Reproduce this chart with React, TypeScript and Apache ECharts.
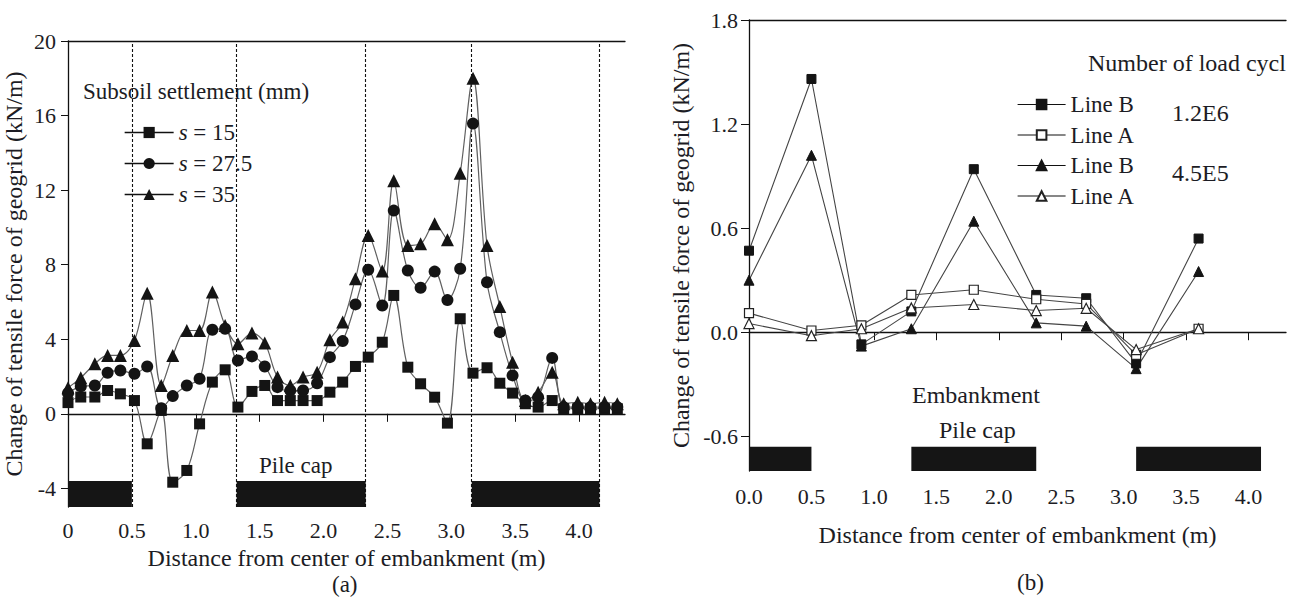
import React, { useEffect, useRef } from 'react';
import * as echarts from 'echarts';

// ---------- Panel (a) data ----------
const xPosA = [0, 0.1, 0.21, 0.31, 0.41, 0.52, 0.62, 0.73, 0.82, 0.93, 1.03, 1.13, 1.23, 1.33, 1.44, 1.54, 1.64, 1.74, 1.84, 1.95, 2.05, 2.15, 2.25, 2.35, 2.46, 2.55, 2.66, 2.76, 2.87, 2.97, 3.07, 3.17, 3.28, 3.38, 3.48, 3.58, 3.68, 3.79, 3.88, 3.99, 4.09, 4.2, 4.3];
const s15 = [0.6, 0.9, 0.9, 1.25, 1.07, 0.71, -1.61, 0.18, -3.67, -3.04, -0.54, 1.7, 2.36, 0.36, 1.2, 1.52, 0.71, 0.71, 0.71, 0.71, 1.16, 1.7, 2.54, 3.04, 3.84, 6.35, 2.5, 1.61, 0.89, -0.5, 5.1, 2.18, 2.47, 1.64, 1.11, 0.54, 0.36, 0.71, 0.27, 0.27, 0.27, 0.27, 0.27];
const s27 = [1.1, 1.47, 1.52, 2.2, 2.32, 2.15, 2.54, 0.3, 0.95, 1.52, 1.88, 4.51, 4.56, 2.86, 3.08, 2.54, 1.43, 1.25, 1.25, 1.64, 3.04, 3.9, 5.87, 7.73, 5.81, 10.9, 7.69, 6.76, 7.63, 6.1, 7.78, 15.57, 7.06, 4.38, 2.06, 0.71, 0.89, 3.0, 0.36, 0.36, 0.36, 0.36, 0.36];
const s35 = [1.4, 1.93, 2.68, 3.13, 3.13, 3.93, 6.47, 1.52, 3.13, 4.47, 4.47, 6.53, 4.74, 3.76, 4.33, 3.8, 1.97, 1.52, 1.97, 2.23, 3.97, 4.92, 7.25, 9.57, 7.66, 12.5, 9.03, 9.12, 10.2, 9.34, 12.9, 18.0, 9.03, 5.76, 2.77, 0.71, 1.16, 2.23, 0.54, 0.62, 0.54, 0.62, 0.54];
const seriesNamesA = ['s = 15', 's = 27.5', 's = 35'];
const pileCapsA = [[0, 0.5], [1.32, 2.33], [3.16, 4.16]];
const capTopA = -3.6;
const dashedA = [0.5, 1.32, 2.33, 3.16, 4.16];
const xTicksA = [0, 0.5, 1, 1.5, 2, 2.5, 3, 3.5, 4];
const yTicksA = [-4, 0, 4, 8, 12, 16, 20];

// ---------- Panel (b) data ----------
const xPosB = [0, 0.5, 0.9, 1.3, 1.8, 2.3, 2.7, 3.1, 3.6];
const lineB12 = [0.47, 1.46, -0.07, 0.12, 0.94, 0.215, 0.196, -0.18, 0.54];
const lineA12 = [0.11, 0.01, 0.04, 0.215, 0.245, 0.19, 0.163, -0.13, 0.02];
const lineB45 = [0.3, 1.02, -0.08, 0.02, 0.64, 0.054, 0.035, -0.21, 0.35];
const lineA45 = [0.05, -0.02, 0.02, 0.14, 0.16, 0.125, 0.138, -0.1, 0.02];
const seriesNamesB = ['Line B 1.2E6', 'Line A 1.2E6', 'Line B 4.5E5', 'Line A 4.5E5'];
const pileCapsB = [[0, 0.5], [1.3, 2.3], [3.1, 4.1]];
const capTopB = -0.66;
const xTicksB = [0, 0.5, 1, 1.5, 2, 2.5, 3, 3.5, 4];
const yTicksB = [-0.6, 0, 0.6, 1.2, 1.8];

const FONT = 'Liberation Serif';
const TXT = '#1c1c24';
const AX = '#111';

const zip = (xs: number[], ys: number[]) => xs.map((x, i) => [x, ys[i]]);

export default function App() {
  const ref = useRef<HTMLDivElement>(null);
  useEffect(() => {
    if (!ref.current) return;
    const chart = echarts.init(ref.current, undefined, { renderer: 'svg' });

    const axisLabelBase = { color: TXT, fontFamily: FONT, fontSize: 22 };
    const nameStyle = { color: TXT, fontFamily: FONT, fontSize: 24 };
    const txt = (text: string, left: number, top: number, size = 23) => ({
      type: 'text', left, top, style: { text, font: `${size}px "${FONT}"`, fill: TXT },
    });

    const capRender = (top: number, bottom: number) => (params: any, api: any) => {
      const p0 = api.coord([api.value(0), top]);
      const p1 = api.coord([api.value(1), bottom]);
      return {
        type: 'rect',
        shape: { x: p0[0], y: p0[1], width: p1[0] - p0[0], height: p1[1] - p0[1] },
        style: { fill: '#151515' },
      };
    };

    const lineA = (name: string, data: number[], symbol: string, size: number) => ({
      name,
      type: 'line',
      xAxisIndex: 0,
      yAxisIndex: 0,
      data: zip(xPosA, data),
      smooth: 0.35,
      symbol,
      symbolSize: size,
      itemStyle: { color: '#141414' },
      lineStyle: { color: '#606060', width: 1.2 },
      z: 5,
    });

    const lineBf = (name: string, data: number[], symbol: string, size: number, filled: boolean) => ({
      name,
      type: 'line',
      xAxisIndex: 2,
      yAxisIndex: 1,
      data: zip(xPosB, data),
      symbol,
      symbolSize: size,
      itemStyle: filled
        ? { color: '#141414', borderColor: '#141414', borderWidth: 1 }
        : { color: '#ffffff', borderColor: '#222', borderWidth: 1.2 },
      lineStyle: { color: '#444', width: 1.1 },
      z: 5,
    });

    const option: any = {
      animation: false,
      backgroundColor: '#ffffff',
      grid: [
        { left: 68, top: 41, width: 557, height: 466 },
        { left: 749, top: 20, width: 537, height: 451 },
      ],
      xAxis: [
        {
          gridIndex: 0, type: 'value', min: 0, max: 4.36, position: 'bottom',
          axisLine: { lineStyle: { color: AX, width: 1.3 } },
          axisTick: { length: 8, customValues: xTicksA, lineStyle: { color: AX } },
          axisLabel: { ...axisLabelBase, customValues: xTicksA, margin: 12,
            formatter: (v: number) => (v === 0 ? '0' : v.toFixed(1)) },
          splitLine: { show: false },
          name: 'Distance from center of embankment (m)', nameLocation: 'middle', nameGap: 36,
          nameTextStyle: nameStyle,
        },
        {
          gridIndex: 0, type: 'value', min: 0, max: 4.36, position: 'top',
          axisLine: { lineStyle: { color: AX, width: 1.3 } },
          axisTick: { show: false }, axisLabel: { show: false }, splitLine: { show: false },
        },
        {
          gridIndex: 1, type: 'value', min: 0, max: 4.3, position: 'bottom',
          axisLine: { lineStyle: { color: AX, width: 1.3 } },
          axisTick: { length: 8, customValues: xTicksB, lineStyle: { color: AX } },
          axisLabel: { ...axisLabelBase, customValues: xTicksB, margin: 14,
            formatter: (v: number) => v.toFixed(1) },
          splitLine: { show: false },
          name: 'Distance from center of embankment (m)', nameLocation: 'middle', nameGap: 52,
          nameTextStyle: nameStyle,
        },
        {
          gridIndex: 1, type: 'value', min: 0, max: 4.3, position: 'top',
          axisLine: { lineStyle: { color: AX, width: 1.3 } },
          axisTick: { show: false }, axisLabel: { show: false }, splitLine: { show: false },
        },
      ],
      yAxis: [
        {
          gridIndex: 0, type: 'value', min: -5, max: 20,
          axisLine: { show: true, lineStyle: { color: AX, width: 1.3 } },
          axisTick: { show: true, length: 7, customValues: yTicksA, lineStyle: { color: AX } },
          axisLabel: { ...axisLabelBase, customValues: yTicksA, margin: 12 },
          splitLine: { show: false },
          name: 'Change of tensile force of geogrid (kN/m)', nameLocation: 'middle', nameGap: 42,
          nameTextStyle: nameStyle,
        },
        {
          gridIndex: 1, type: 'value', min: -0.8, max: 1.8,
          axisLine: { show: true, lineStyle: { color: AX, width: 1.3 } },
          axisTick: { show: true, length: 8, customValues: yTicksB, lineStyle: { color: AX } },
          axisLabel: { ...axisLabelBase, customValues: yTicksB, margin: 11,
            formatter: (v: number) => v.toFixed(1) },
          splitLine: { show: false },
          name: 'Change of tensile force of geogrid (kN/m)', nameLocation: 'middle', nameGap: 56,
          nameTextStyle: nameStyle,
        },
      ],
      legend: [
        {
          data: seriesNamesA,
          orient: 'vertical', left: 119, top: 116,
          itemWidth: 49, itemHeight: 14, itemGap: 8,
          lineStyle: { color: '#111', width: 1.3 },
          textStyle: {
            color: TXT, fontFamily: FONT, fontSize: 23, lineHeight: 22,
            rich: {
              i: { fontStyle: 'italic', fontFamily: FONT, fontSize: 23, color: TXT },
              n: { fontFamily: FONT, fontSize: 23, color: TXT },
            },
          },
          formatter: (name: string) => `{i|s}{n|${name.slice(1)}}`,
          selectedMode: false,
        },
        {
          data: seriesNamesB,
          orient: 'vertical', left: 1012, top: 88,
          itemWidth: 48, itemHeight: 12, itemGap: 7.5,
          lineStyle: { color: '#111', width: 1.2 },
          textStyle: { color: TXT, fontFamily: FONT, fontSize: 23, lineHeight: 22 },
          formatter: (name: string) => name.split(' ').slice(0, 2).join(' '),
          selectedMode: false,
        },
      ],
      graphic: [
        txt('Subsoil settlement (mm)', 83, 80),
        txt('Pile cap', 259, 454),
        txt('Number of load cycl', 1088, 51, 24),
        txt('1.2E6', 1172, 101, 24),
        txt('4.5E5', 1172, 161, 24),
        txt('Embankment', 912, 383, 24),
        txt('Pile cap', 939, 418, 24),
        txt('(a)', 332, 573, 23),
        txt('(b)', 1017, 571, 23),
      ],
      series: [
        {
          type: 'custom', name: 'capsA', xAxisIndex: 0, yAxisIndex: 0,
          data: pileCapsA, renderItem: capRender(capTopA, -5), z: 2, silent: true,
          encode: { x: [0, 1] },
        },
        {
          type: 'custom', name: 'capsB', xAxisIndex: 2, yAxisIndex: 1,
          data: pileCapsB, renderItem: capRender(capTopB, -0.8), z: 2, silent: true,
          encode: { x: [0, 1] },
        },
        {
          ...lineA(seriesNamesA[0], s15, 'rect', 11),
          markLine: {
            silent: true, symbol: ['none', 'none'], label: { show: false },
            lineStyle: { type: [3, 2], color: '#111', width: 1.1 },
            data: dashedA.map((v) => ({ xAxis: v })),
          },
        },
        lineA(seriesNamesA[1], s27, 'circle', 12),
        lineA(seriesNamesA[2], s35, 'triangle', 13),
        lineBf(seriesNamesB[0], lineB12, 'rect', 9, true),
        lineBf(seriesNamesB[1], lineA12, 'rect', 9, false),
        lineBf(seriesNamesB[2], lineB45, 'triangle', 10, true),
        lineBf(seriesNamesB[3], lineA45, 'triangle', 10, false),
      ],
    };

    chart.setOption(option);
    return () => chart.dispose();
  }, []);

  return (
    <div
      ref={ref}
      style={{ position: 'fixed', left: 0, top: 0, width: 1301, height: 599, background: '#fff' }}
    />
  );
}
